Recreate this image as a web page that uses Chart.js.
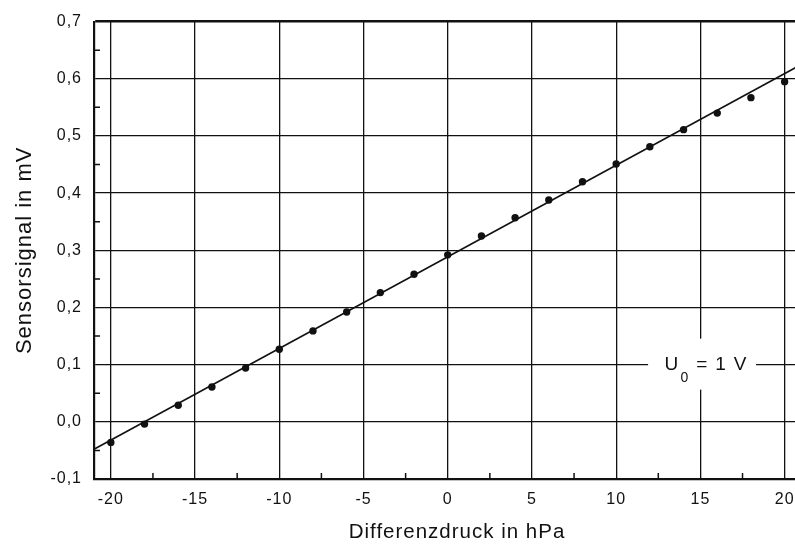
<!DOCTYPE html>
<html>
<head>
<meta charset="utf-8">
<script src="https://cdn.jsdelivr.net/npm/chart.js@4"></script>
<style>
  html, body { margin: 0; padding: 0; background: #fff; overflow: hidden; }
  #wrap { width: 795px; height: 545px; overflow: hidden; }
</style>
</head>
<body>
<div id="wrap"><canvas id="chart" width="824" height="545"></canvas></div>
<script>
// ---------------- DATA ----------------
const pressure = [-20, -18, -16, -14, -12, -10, -8, -6, -4, -2, 0, 2, 4, 6, 8, 10, 12, 14, 16, 18, 20];
const signal = [-0.036, -0.004, 0.029, 0.061, 0.094, 0.127, 0.159, 0.192, 0.226, 0.258, 0.292,
  0.325, 0.357, 0.388, 0.420, 0.451, 0.481, 0.511, 0.540, 0.567, 0.595];
const fitX = [-21, 20.8];
const fitY = [-0.048, 0.622];
const xTicks = [-20, -15, -10, -5, 0, 5, 10, 15, 20];
const yTicks = [-0.1, 0, 0.1, 0.2, 0.3, 0.4, 0.5, 0.6, 0.7];
const xMinor = [-17.5, -12.5, -7.5, -2.5, 2.5, 7.5, 12.5, 17.5];
const yMinor = [-0.05, 0.05, 0.15, 0.25, 0.35, 0.45, 0.55, 0.65];
const labelText = { main: 'U', sub: '0', rest: ' = 1 V' };
const labelAt = { x: 15.1, y: 0.1 };

const FONT = '"Liberation Sans", Arial, sans-serif';
const INK = '#111';

// ---------------- PLUGINS ----------------
// the scanned original uses loose Helvetica tracking
const tracking = {
  id: 'tracking',
  beforeLayout(chart) { chart.ctx.letterSpacing = '1px'; },
  beforeDraw(chart) { chart.ctx.letterSpacing = '1px'; },
};

const minorTicks = {
  id: 'minorTicks',
  afterDraw(chart) {
    const { ctx, chartArea, scales } = chart;
    ctx.save();
    ctx.strokeStyle = INK;
    ctx.lineWidth = 1.5;
    ctx.beginPath();
    xMinor.forEach((v) => {
      const px = scales.x.getPixelForValue(v);
      ctx.moveTo(px, chartArea.bottom);
      ctx.lineTo(px, chartArea.bottom - 6);
    });
    yMinor.forEach((v) => {
      const py = scales.y.getPixelForValue(v);
      ctx.moveTo(chartArea.left, py);
      ctx.lineTo(chartArea.left + 6, py);
    });
    ctx.stroke();
    ctx.restore();
  },
};

const voltageLabel = {
  id: 'voltageLabel',
  afterDraw(chart) {
    const { ctx, scales } = chart;
    const cx = scales.x.getPixelForValue(labelAt.x);
    const cy = scales.y.getPixelForValue(labelAt.y);
    ctx.save();
    ctx.fillStyle = '#fff';
    ctx.fillRect(cx - 54, cy - 26, 108, 51);
    ctx.fillStyle = INK;
    ctx.textBaseline = 'alphabetic';
    ctx.letterSpacing = '1.3px';
    ctx.font = `19px ${FONT}`;
    const wMain = ctx.measureText(labelText.main).width;
    ctx.font = `14px ${FONT}`;
    const wSub = ctx.measureText(labelText.sub).width;
    ctx.font = `19px ${FONT}`;
    const wRest = ctx.measureText(labelText.rest).width;
    let x = cx + 4 - (wMain + wSub + 1 + wRest) / 2;
    const base = cy + 5;
    ctx.fillText(labelText.main, x, base);
    x += wMain + 1;
    ctx.font = `14px ${FONT}`;
    ctx.fillText(labelText.sub, x, base + 12);
    x += wSub;
    ctx.font = `19px ${FONT}`;
    ctx.fillText(labelText.rest, x, base);
    ctx.restore();
  },
};

// ---------------- CHART ----------------
const fmt = (v) => v.toFixed(1).replace('.', ',');

new Chart(document.getElementById('chart'), {
  type: 'scatter',
  data: {
    datasets: [
      {
        type: 'line',
        data: fitX.map((x, i) => ({ x, y: fitY[i] })),
        borderColor: INK,
        borderWidth: 1.6,
        pointRadius: 0,
        fill: false,
        clip: false,
      },
      {
        data: pressure.map((x, i) => ({ x, y: signal[i] })),
        backgroundColor: INK,
        borderColor: INK,
        pointRadius: 3.7,
        pointBorderWidth: 0,
      },
    ],
  },
  options: {
    responsive: false,
    animation: false,
    layout: { padding: { top: 21, right: 0, left: 0, bottom: 0 } },
    plugins: { legend: { display: false }, tooltip: { enabled: false } },
    scales: {
      x: {
        type: 'linear',
        min: -21,
        max: 22.1,
        afterFit: (s) => { s.height = 66; s.paddingRight = 0; s.paddingLeft = 0; },
        afterBuildTicks: (s) => { s.ticks = xTicks.map((value) => ({ value })); },
        grid: {
          color: INK,
          lineWidth: 1.3,
          drawTicks: false,
        },
        border: { color: INK, width: 2.2 },
        ticks: {
          color: INK,
          padding: 11,
          font: { family: FONT, size: 16 },
          callback: (v) => String(v),
        },
        title: {
          display: true,
          text: 'Differenzdruck in hPa',
          color: INK,
          font: { family: FONT, size: 20.5 },
          padding: { top: 0, bottom: 0 },
        },
      },
      y: {
        type: 'linear',
        min: -0.1,
        max: 0.7,
        afterFit: (s) => { s.width = 94; },
        afterBuildTicks: (s) => { s.ticks = yTicks.map((value) => ({ value })); },
        grid: {
          color: INK,
          lineWidth: (c) => (c.tick && Math.abs(c.tick.value - 0.7) < 1e-6 ? 2.4 : 1.3),
          drawTicks: false,
        },
        border: { color: INK, width: 2.2 },
        ticks: {
          color: INK,
          padding: 12,
          font: { family: FONT, size: 16 },
          callback: (v) => fmt(v),
        },
        title: {
          display: true,
          text: 'Sensorsignal in mV',
          color: INK,
          font: { family: FONT, size: 22 },
          padding: { top: 12, bottom: 0 },
        },
      },
    },
  },
  plugins: [tracking, minorTicks, voltageLabel],
});
</script>
</body>
</html>
